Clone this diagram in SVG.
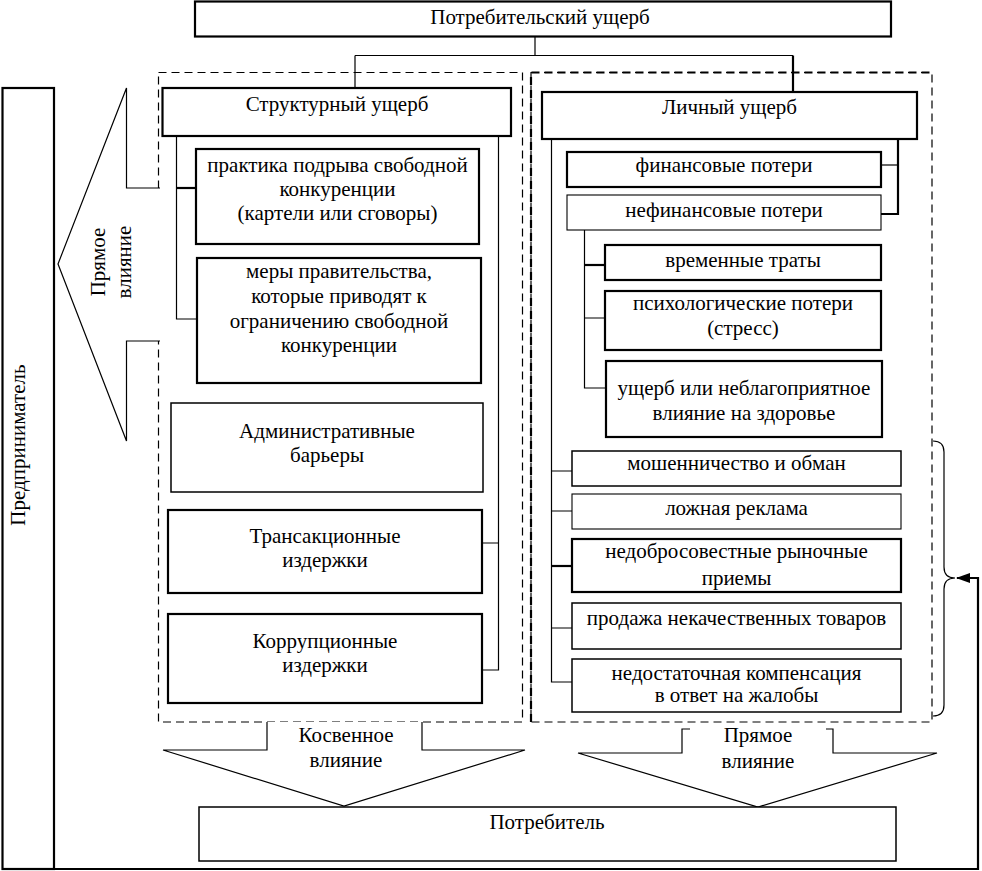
<svg xmlns="http://www.w3.org/2000/svg" width="982" height="871" viewBox="0 0 982 871" font-family="'Liberation Serif', 'Times New Roman', serif">
<defs>
<marker id="ah" markerWidth="14" markerHeight="10" refX="13" refY="5" orient="auto" markerUnits="userSpaceOnUse">
<path d="M0,0 L14,5 L0,10 z" fill="#000"/>
</marker>
<style>
.box{fill:#fff;stroke:#000;stroke-width:1.5}
.thick{stroke-width:2.2}
.thin{stroke-width:1.1}
.dash{fill:none;stroke:#000;stroke-width:1.2;stroke-dasharray:8 5}
.dashb{fill:none;stroke:#000;stroke-width:2.2;stroke-dasharray:8 5}
.ln{fill:none;stroke:#000;stroke-width:1.2}
.lnb{fill:none;stroke:#000;stroke-width:2.2}
.shape{fill:#fff;stroke:#000;stroke-width:1.2;stroke-linejoin:miter}
text{font-family:'Liberation Serif','Times New Roman',serif;font-size:21px;fill:#000;text-anchor:middle}
</style>
</defs>
<rect width="982" height="871" fill="#fff"/>

<g id="groups">
<rect class="dash" x="158.5" y="72.5" width="364" height="649.5"/>
<rect class="dash" x="531" y="72.5" width="401" height="649.5"/>
<path class="dashb" d="M531,722 V72.5 H932"/>
</g>

<g id="connectors">
<path class="ln" d="M535,37 V55.5 M355,55.5 H793 M355,55.5 V88"/>
<path class="lnb" d="M793,55.5 V92"/>
<path class="ln" d="M176.5,136 V319 H197"/>
<path class="lnb" d="M176.5,188 H196"/>
<path class="ln" d="M498.5,136 V670 H482 M498.5,543 H482"/>
<path class="ln" d="M551.5,139 V682 H572 M551.5,471 H572 M551.5,511 H572 M551.5,628 H572"/>
<path class="lnb" d="M551.5,566 H572"/>
<path class="lnb" d="M898,139 V214 H881"/>
<path class="ln" d="M898,165 H881"/>
<path class="ln" d="M584.5,230 V388 H606 M584.5,318 H605"/>
<path class="lnb" d="M584.5,265 H605"/>
<path class="ln" d="M933,441 C940,441 944,445 944,452 V567 C944,574 948,578 955,578 C948,578 944,582 944,589 V705 C944,712 940,716 933,716"/>
<path class="lnb" d="M54,869 H978 V578 H957" marker-end="url(#ah)"/>
</g>

<g id="arrow-direct-left">
<path class="shape" d="M160,188 H126.5 V88 L58,264 L126.5,441 V341 H160"/>
<text transform="translate(105,262) rotate(-90)">Прямое</text>
<text transform="translate(131,262) rotate(-90)">влияние</text>
</g>

<g id="arrow-indirect">
<path class="shape" d="M267,722 V750 H163 L344,806 L525,750 H422 V722"/>
<text x="346" y="742">Косвенное</text>
<text x="346" y="767">влияние</text>
</g>

<g id="arrow-direct-bottom">
<path class="shape" d="M690,729 H682 V753 H578 L758,807 L937,753 H833 V729 H826"/>
<text x="758" y="742">Прямое</text>
<text x="758" y="768">влияние</text>
</g>

<g id="n-top">
<rect class="box thick" x="195" y="1.5" width="696" height="35"/>
<text x="540" y="24">Потребительский ущерб</text>
</g>

<g id="n-entrepreneur">
<rect class="box thick" x="2.5" y="88" width="51.5" height="781"/>
<text transform="translate(25,445) rotate(-90)">Предприниматель</text>
</g>

<g id="n-structural">
<rect class="box thick" x="162.5" y="88" width="348.5" height="48"/>
<text x="337" y="111">Структурный ущерб</text>
</g>
<g id="n-s1">
<rect class="box thick" x="196" y="149" width="283" height="95"/>
<text x="337.5" y="172">практика подрыва свободной</text>
<text x="337.5" y="196">конкуренции</text>
<text x="337.5" y="220">(картели или сговоры)</text>
</g>
<g id="n-s2">
<rect class="box thick" x="197" y="258" width="284" height="125"/>
<text x="339" y="278">меры правительства,</text>
<text x="339" y="303">которые приводят к</text>
<text x="339" y="328">ограничению свободной</text>
<text x="339" y="352">конкуренции</text>
</g>
<g id="n-s3">
<rect class="box" x="171" y="403" width="312" height="89"/>
<text x="327" y="438">Административные</text>
<text x="327" y="462">барьеры</text>
</g>
<g id="n-s4">
<rect class="box thick" x="168" y="510" width="314" height="83"/>
<text x="325" y="543">Трансакционные</text>
<text x="325" y="567">издержки</text>
</g>
<g id="n-s5">
<rect class="box thick" x="168" y="614" width="314" height="89"/>
<text x="325" y="648">Коррупционные</text>
<text x="325" y="672">издержки</text>
</g>

<g id="n-personal">
<rect class="box thick" x="542" y="92" width="375" height="47"/>
<text x="729.5" y="114">Личный ущерб</text>
</g>
<g id="n-p1">
<rect class="box thick" x="567" y="152" width="314" height="35"/>
<text x="724" y="172">финансовые потери</text>
</g>
<g id="n-p2">
<rect class="box thin" x="567" y="195" width="314" height="35"/>
<text x="724" y="217">нефинансовые потери</text>
</g>
<g id="n-p2a">
<rect class="box thick" x="605" y="245" width="276" height="35"/>
<text x="743" y="267">временные траты</text>
</g>
<g id="n-p2b">
<rect class="box thick" x="605" y="291" width="276" height="59"/>
<text x="743" y="310">психологические потери</text>
<text x="743" y="335">(стресс)</text>
</g>
<g id="n-p2c">
<rect class="box thick" x="606" y="361" width="276" height="76"/>
<text x="744" y="395">ущерб или неблагоприятное</text>
<text x="744" y="420">влияние на здоровье</text>
</g>
<g id="n-p3">
<rect class="box" x="572" y="451" width="329" height="35"/>
<text x="736.5" y="470">мошенничество и обман</text>
</g>
<g id="n-p4">
<rect class="box thin" x="572" y="494" width="329" height="35"/>
<text x="736.5" y="515">ложная реклама</text>
</g>
<g id="n-p5">
<rect class="box thick" x="572" y="539" width="329" height="53"/>
<text x="736.5" y="558">недобросовестные рыночные</text>
<text x="736.5" y="585">приемы</text>
</g>
<g id="n-p6">
<rect class="box" x="572" y="603" width="329" height="46"/>
<text x="736.5" y="625">продажа некачественных товаров</text>
</g>
<g id="n-p7">
<rect class="box" x="572" y="659" width="329" height="53"/>
<text x="736.5" y="680">недостаточная компенсация</text>
<text x="736.5" y="702">в ответ на жалобы</text>
</g>

<g id="n-consumer">
<rect class="box" x="199" y="807" width="697" height="54"/>
<text x="547" y="829">Потребитель</text>
</g>
</svg>
